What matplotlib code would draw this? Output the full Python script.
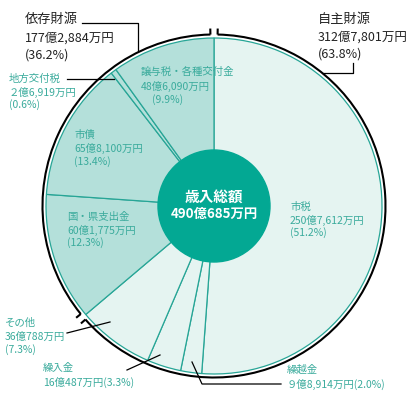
import matplotlib
matplotlib.use('Agg')
import matplotlib.pyplot as plt
from matplotlib.patches import Arc, Circle
import numpy as np

plt.rcParams['font.family'] = ['Noto Sans CJK JP', 'DejaVu Sans']

# revenue items, clockwise from 12 o'clock (unit: 万円)
categories = ['市税', '繰越金', '繰入金', 'その他', '国・県支出金', '市債', '地方交付税', '譲与税・各種交付金']
amounts = [2507612, 98914, 160487, 360788, 601775, 658100, 26919, 486090]
amount_labels = ['250億7,612万円', '９億8,914万円', '16億487万円', '36億788万円',
                 '60億1,775万円', '65億8,100万円', '２億6,919万円', '48億6,090万円']
percent_labels = ['51.2%', '2.0%', '3.3%', '7.3%', '12.3%', '13.4%', '0.6%', '9.9%']
own_revenue = [True, True, True, True, False, False, False, False]

groups = ['自主財源', '依存財源']
group_amounts = ['312億7,801万円', '177億2,884万円']
group_percents = ['63.8%', '36.2%']
total_label = ['歳入総額', '490億685万円']

LIGHT = '#e5f4f1'
DARK = '#b4e0da'
TEAL = '#27a596'
TEXT_TEAL = '#3aab9c'
CENTER = '#03a893'

W, H = 415, 398
fig = plt.figure(figsize=(W / 100, H / 100), dpi=100)
ax = fig.add_axes([0, 0, 1, 1])

def Y(py):
    return H - py

cx, cy, R = 214, Y(206), 168

colors = [LIGHT if o else DARK for o in own_revenue]
ax.pie(amounts, colors=colors, startangle=90, counterclock=False,
       center=(cx, cy), radius=R,
       wedgeprops=dict(edgecolor=TEAL, linewidth=0.9))

# outer black arcs for the two groups, with small end ticks
total = sum(amounts)
own_frac = sum(a for a, o in zip(amounts, own_revenue) if o) / total
split = 90 - own_frac * 360  # math angle of the own/dependent boundary
ra = R + 3.5
gap = 1.2
arcs = [(split + gap, 90 - gap), (90 + gap, split + 360 - gap)]
for t1, t2 in arcs:
    ax.add_patch(Arc((cx, cy), 2 * ra, 2 * ra, theta1=t1, theta2=t2,
                     color='black', lw=1.5))
    for t in (t1, t2):
        a = np.deg2rad(t)
        ax.plot([cx + ra * np.cos(a), cx + (ra + 6) * np.cos(a)],
                [cy + ra * np.sin(a), cy + (ra + 6) * np.sin(a)],
                color='black', lw=1.5, solid_capstyle='butt')

# center circle
ax.add_patch(Circle((cx, cy), 56, color=CENTER, zorder=3))
ax.text(cx, Y(197), total_label[0], color='white', fontsize=10.5, fontweight='bold',
        ha='center', va='center', zorder=4)
ax.text(cx, Y(214), total_label[1], color='white', fontsize=9.6, fontweight='bold',
        ha='center', va='center', zorder=4)

def lines(x, ys, texts, color, sizes):
    for y, t, s in zip(ys, texts, sizes):
        ax.text(x, Y(y), t, color=color, fontsize=s, ha='left', va='center', zorder=5)

def pct(p):
    return '(' + p + ')'

small = [7.5, 7.5, 7.5]

# group labels
lines(25, [20, 38, 55], [groups[1], group_amounts[1], pct(group_percents[1])],
      '#222222', [9.5, 9, 9])
lines(318, [20, 37, 54], [groups[0], group_amounts[0], pct(group_percents[0])],
      '#222222', [9.5, 9, 9])

# item labels inside slices
i = categories.index('市税')
lines(290, [207, 220, 233], [categories[i], amount_labels[i], pct(percent_labels[i])], TEXT_TEAL, small)
i = categories.index('譲与税・各種交付金')
lines(141, [72, 86], [categories[i], amount_labels[i]], TEXT_TEAL, small)
lines(152, [100], [pct(percent_labels[i])], TEXT_TEAL, small)
i = categories.index('市債')
lines(74, [135, 148, 162], [categories[i], amount_labels[i], pct(percent_labels[i])], TEXT_TEAL, small)
i = categories.index('国・県支出金')
lines(67, [217, 230, 243], [categories[i], amount_labels[i], pct(percent_labels[i])], TEXT_TEAL, small)

# item labels outside with leader lines
i = categories.index('地方交付税')
lines(9, [79, 92, 105], [categories[i], amount_labels[i], pct(percent_labels[i])], TEXT_TEAL, small)
i = categories.index('その他')
lines(5, [323, 337, 350], [categories[i], amount_labels[i], pct(percent_labels[i])], TEXT_TEAL, small)
i = categories.index('繰入金')
lines(43, [368, 382], [categories[i], amount_labels[i] + pct(percent_labels[i])], TEXT_TEAL, small)
i = categories.index('繰越金')
lines(287, [370, 384], [categories[i], amount_labels[i] + pct(percent_labels[i])], TEXT_TEAL, small)

leaders = [
    [(82, 23), (138, 23), (138, 51)],
    [(353, 63), (353, 73), (323, 73)],
    [(67, 79), (114, 79)],
    [(67, 333), (110, 322)],
    [(127, 370), (160, 355)],
    [(281, 384), (202, 384), (192, 362)],
]
for pts in leaders:
    xs = [p[0] for p in pts]
    ys = [Y(p[1]) for p in pts]
    ax.plot(xs, ys, color='black', lw=0.9, zorder=6)

ax.set_xlim(0, W)
ax.set_ylim(0, H)
ax.set_aspect('equal')
ax.axis('off')

fig.savefig('out.png', dpi=100)
